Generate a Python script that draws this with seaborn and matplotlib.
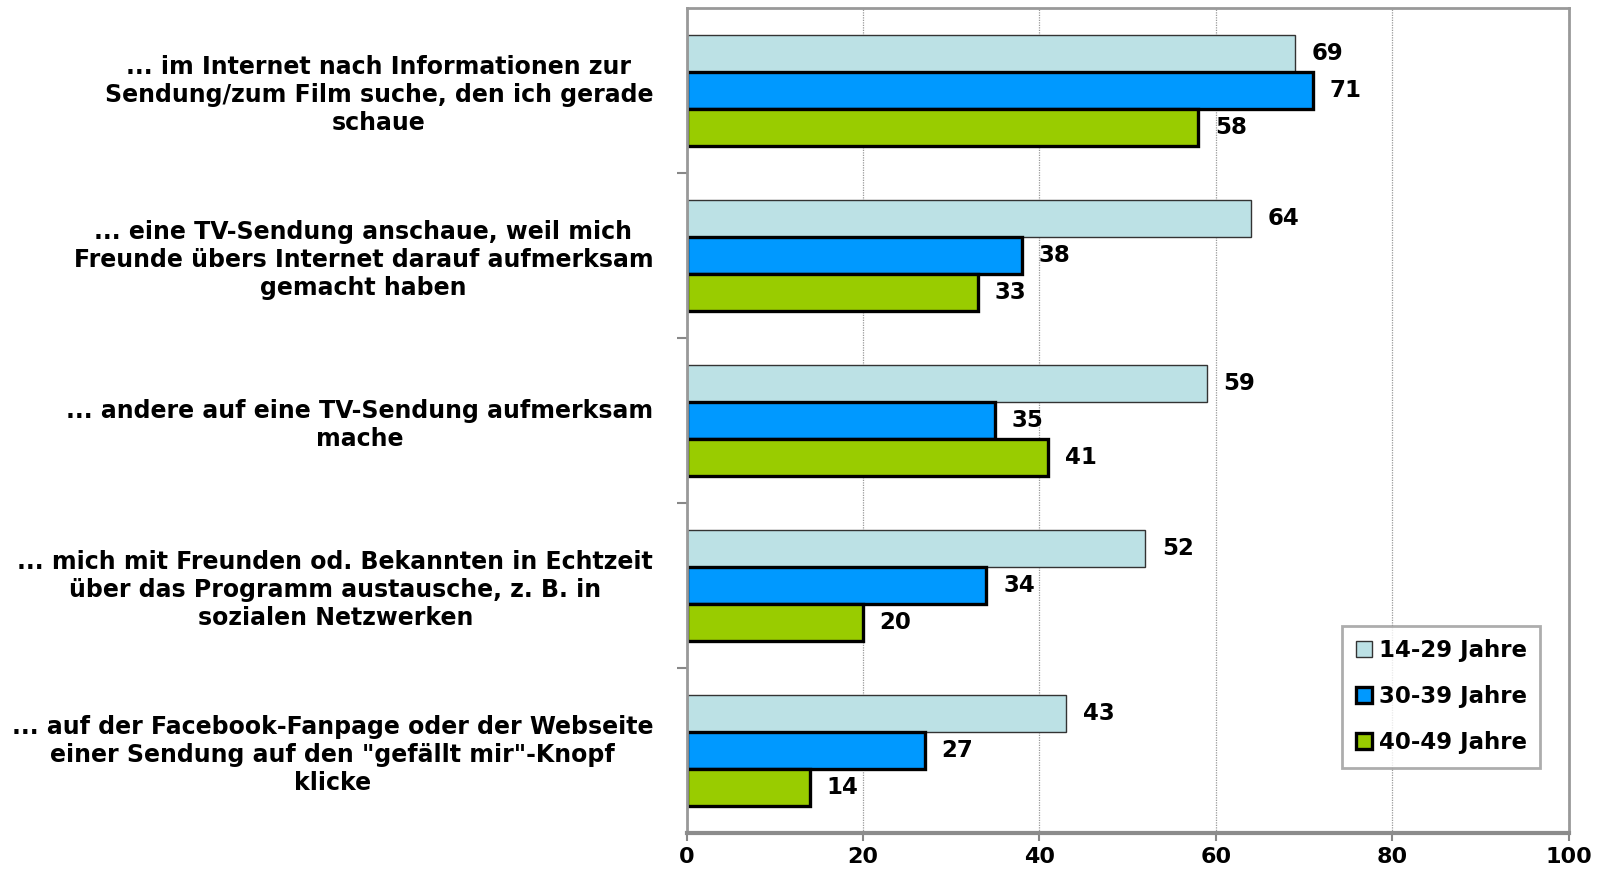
"""Nutzung des Internets parallel zum Fernsehen nach Altersgruppen."""

import matplotlib.pyplot as plt
import numpy as np
import pandas as pd
import seaborn as sns

kategorien = [
    "... im Internet nach Informationen zur\nSendung/zum Film suche, den ich gerade\nschaue",
    "... eine TV-Sendung anschaue, weil mich\nFreunde übers Internet darauf aufmerksam\ngemacht haben",
    "... andere auf eine TV-Sendung aufmerksam\nmache",
    "... mich mit Freunden od. Bekannten in Echtzeit\nüber das Programm austausche, z. B. in\nsozialen Netzwerken",
    "... auf der Facebook-Fanpage oder der Webseite\neiner Sendung auf den \"gefällt mir\"-Knopf\nklicke",
]
gruppen = ["14-29 Jahre", "30-39 Jahre", "40-49 Jahre"]
werte_14_29 = [69, 64, 59, 52, 43]
werte_30_39 = [71, 38, 35, 34, 27]
werte_40_49 = [58, 33, 41, 20, 14]
x_ticks = [0, 20, 40, 60, 80, 100]

farben = ["#BCE1E5", "#0099FF", "#99CC00"]

df = pd.DataFrame(
    {
        "kategorie": kategorien * 3,
        "gruppe": [g for g in gruppen for _ in kategorien],
        "wert": werte_14_29 + werte_30_39 + werte_40_49,
    }
)

sns.set_theme(style="white")
plt.rcParams["font.family"] = ["DejaVu Sans"]
plt.rcParams["font.weight"] = "bold"
plt.rcParams["text.color"] = "black"
plt.rcParams["xtick.color"] = "black"
plt.rcParams["ytick.color"] = "black"

fig, ax = plt.subplots(figsize=(16.04, 8.77), dpi=100)
fig.subplots_adjust(left=0.428, right=0.978, top=0.991, bottom=0.050)

sns.barplot(
    data=df,
    y="kategorie",
    x="wert",
    hue="gruppe",
    order=kategorien,
    hue_order=gruppen,
    palette=farben,
    saturation=1,
    width=0.67,
    orient="h",
    ax=ax,
    legend=True,
)

# Ränder: hellblau dünn, die anderen kräftig schwarz
for i, cont in enumerate(ax.containers):
    for patch in cont:
        if i == 0:
            patch.set_edgecolor("#333333")
            patch.set_linewidth(1.0)
        else:
            patch.set_edgecolor("black")
            patch.set_linewidth(2.4)
    ax.bar_label(cont, fmt="%d", padding=12, fontsize=16.5, fontweight="bold",
                 color="black")

ax.set_xlim(0, 100)
ax.set_ylim(len(kategorien) - 0.5, -0.5)
ax.set_xticks(x_ticks)
ax.set_xticklabels([str(t) for t in x_ticks], fontsize=16, fontweight="bold")
ax.tick_params(axis="x", which="major", length=6, width=1.5, color="#888888",
               labelcolor="black", direction="out", pad=4, bottom=True)
ax.xaxis.grid(True, color="#999999", linestyle=(0, (1, 1)), linewidth=0.9)
ax.set_axisbelow(True)

ax.set_yticks(np.arange(len(kategorien)))
ax.set_yticklabels(kategorien, fontsize=17, fontweight="bold",
                   multialignment="center", linespacing=1.2)
ax.tick_params(axis="y", which="major", length=0, pad=24, labelcolor="black")
ax.set_yticks(np.arange(len(kategorien) - 1) + 0.5, minor=True)
ax.tick_params(axis="y", which="minor", length=7, width=1.5, color="#888888",
               direction="out", left=True)

ax.set_xlabel("")
ax.set_ylabel("")

for name, sp in ax.spines.items():
    sp.set_visible(True)
    sp.set_color("#999999")
    sp.set_linewidth(2.0)
ax.spines["bottom"].set_linewidth(3.0)
ax.spines["bottom"].set_color("#8c8c8c")

leg = ax.legend(
    loc="lower right",
    bbox_to_anchor=(0.968, 0.079),
    frameon=True,
    fancybox=False,
    edgecolor="#999999",
    handlelength=0.7,
    handleheight=0.7,
    handletextpad=0.3,
    labelspacing=1.0,
    borderpad=0.6,
    borderaxespad=0,
    prop={"weight": "bold", "size": 16.5},
)
leg.get_frame().set_linewidth(2.0)
for i, h in enumerate(leg.legend_handles):
    h.set_edgecolor("#333333" if i == 0 else "black")
    h.set_linewidth(1.0 if i == 0 else 2.4)

fig.savefig("out.png", dpi=100)
